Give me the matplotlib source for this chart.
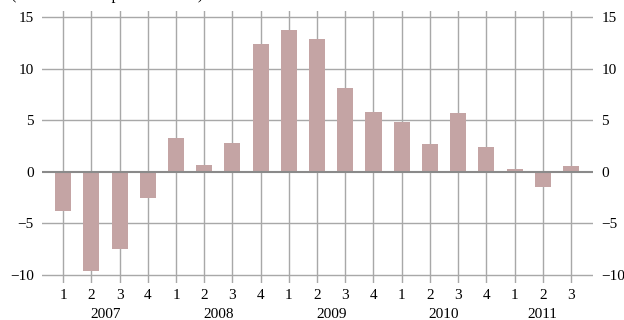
import matplotlib
matplotlib.use("Agg")
import matplotlib.pyplot as plt
import numpy as np

plt.rcParams['font.family'] = ['Liberation Serif', 'DejaVu Serif']

# data
years = ["2007", "2008", "2009", "2010", "2011"]
quarters = ["1", "2", "3", "4", "1", "2", "3", "4", "1", "2", "3", "4",
            "1", "2", "3", "4", "1", "2", "3"]
values = [-3.75, -9.65, -7.5, -2.5, 3.3, 0.7, 2.8, 12.4, 13.75, 12.9, 8.1,
          5.8, 4.85, 2.7, 5.7, 2.45, 0.3, -1.5, 0.6]
year_of = [0]*4 + [1]*4 + [2]*4 + [3]*4 + [4]*3

x = np.arange(len(values))

fig = plt.figure(figsize=(6.24, 3.2), dpi=100)
ax = fig.add_axes([0.0673, 0.1156, 0.883, 0.85])

ax.bar(x, values, width=0.57, color="#c4a4a4", zorder=3)

for yv in [-10, -5, 5, 10, 15]:
    ax.axhline(yv, color="#a8a8a8", lw=1, zorder=1)
ax.axhline(0, color="#8a8a8a", lw=1.5, zorder=4)
for xi in x:
    ax.axvline(xi, color="#a8a8a8", lw=1, zorder=1)

ax.set_xlim(-0.75, 18.78)
ax.set_ylim(-10.77, 15.58)
for s in ax.spines.values():
    s.set_visible(False)

ax.set_yticks([-10, -5, 0, 5, 10, 15])
ax.set_yticklabels(["\u221210", "\u22125", "0", "5", "10", "15"])
ax.tick_params(axis="y", length=0, labelsize=11, pad=6,
               labelleft=True, labelright=True)
ax.set_xticks(x)
ax.set_xticklabels(quarters)
ax.tick_params(axis="x", length=0, labelsize=11, pad=4)

for i, yr in enumerate(years):
    pos = x[np.array(year_of) == i].mean()
    ax.text(pos, -0.115, yr, transform=ax.get_xaxis_transform(),
            ha="center", va="center", fontsize=11)

# subtitle sits mostly above the canvas, as in the source image
fig.text(0.017, 1 + 1.0/320, "(Annual rate in percent terms)", fontsize=11.5,
         va="baseline", ha="left")

fig.savefig("out.png", dpi=100)
